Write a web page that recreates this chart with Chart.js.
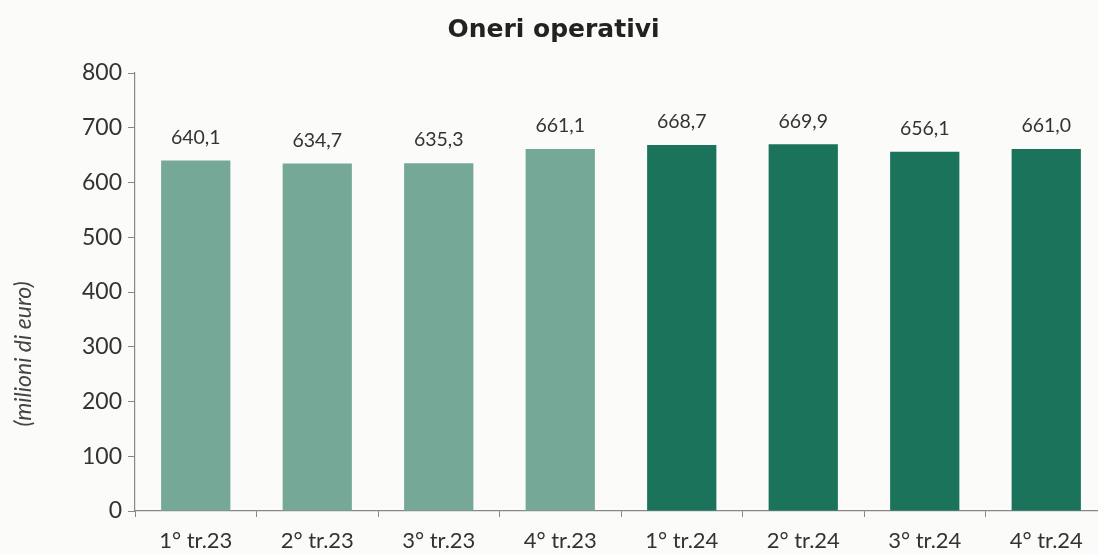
<!DOCTYPE html>
<html>
<head>
<meta charset="utf-8">
<script src="https://cdn.jsdelivr.net/npm/chart.js@4.4.1/dist/chart.umd.min.js"></script>
<style>
  html, body { margin: 0; padding: 0; background: #fbfbfa; overflow: hidden; }
  #wrap { width: 1108px; height: 555px; }
</style>
</head>
<body>
<div id="wrap"><canvas id="oneriChart" width="1108" height="555"></canvas></div>
<script>
// Dati del grafico
var trimestri = ['1° tr.23', '2° tr.23', '3° tr.23', '4° tr.23', '1° tr.24', '2° tr.24', '3° tr.24', '4° tr.24'];
var oneri = [640.1, 634.7, 635.3, 661.1, 668.7, 669.9, 656.1, 661.0];
var anni = ['2023', '2023', '2023', '2023', '2024', '2024', '2024', '2024'];
var yTicks = [0, 100, 200, 300, 400, 500, 600, 700, 800];

var coloreAnno = { '2023': '#76a898', '2024': '#1a735a' };

// Etichette sopra le barre + titolo asse y
var etichetteBarre = {
    id: 'etichetteBarre',
    afterDatasetsDraw: function(chart) {
        var ctx = chart.ctx;
        var meta = chart.getDatasetMeta(0);
        ctx.save();
        ctx.font = '19.5px Lato';
        ctx.fillStyle = '#333';
        ctx.textAlign = 'center';
        ctx.textBaseline = 'middle';
        meta.data.forEach(function(bar, i) {
            ctx.fillText(oneri[i].toFixed(1).replace('.', ','), bar.x, bar.y - 23);
        });
        // titolo asse y (un po' sotto il centro, come nell'originale)
        ctx.translate(24, 354);
        ctx.rotate(-Math.PI / 2);
        ctx.font = 'italic 23px Lato';
        ctx.fillStyle = '#444';
        ctx.fillText('(milioni di euro)', 0, 0);
        ctx.restore();
    }
};

var ctx = document.getElementById('oneriChart').getContext('2d');
var chart = new Chart(ctx, {
    type: 'bar',
    data: {
        labels: trimestri,
        datasets: [{
            data: oneri,
            backgroundColor: anni.map(function(a) { return coloreAnno[a]; }),
            barPercentage: 0.57,
            categoryPercentage: 1.0
        }]
    },
    options: {
        responsive: false,
        animation: false,
        layout: { padding: { left: 0, right: 1, top: 0, bottom: 0 } },
        scales: {
            x: {
                offset: true,
                grid: { display: true, offset: true, drawOnChartArea: false, tickLength: 6, color: '#888' },
                border: { color: '#888', width: 1.2 },
                ticks: { font: { family: 'Lato', size: 22 }, color: '#333', padding: 11 },
                afterFit: function(scale) { scale.height = 44; }
            },
            y: {
                min: 0,
                max: 800,
                afterBuildTicks: function(scale) {
                    scale.ticks = yTicks.map(function(v) { return { value: v }; });
                },
                grid: { display: true, drawOnChartArea: false, tickLength: 7, color: '#888' },
                border: { color: '#888', width: 1.2 },
                ticks: { font: { family: 'Lato', size: 23 }, color: '#333', padding: 6 },
                afterFit: function(scale) { scale.width = 135; }
            }
        },
        plugins: {
            legend: { display: false },
            tooltip: { enabled: false },
            title: {
                display: true,
                text: 'Oneri operativi',
                font: { family: 'DejaVu Sans', size: 25, weight: 'bold' },
                color: '#222',
                padding: { top: 15, bottom: 28 }
            }
        }
    },
    plugins: [etichetteBarre]
});
</script>
</body>
</html>
